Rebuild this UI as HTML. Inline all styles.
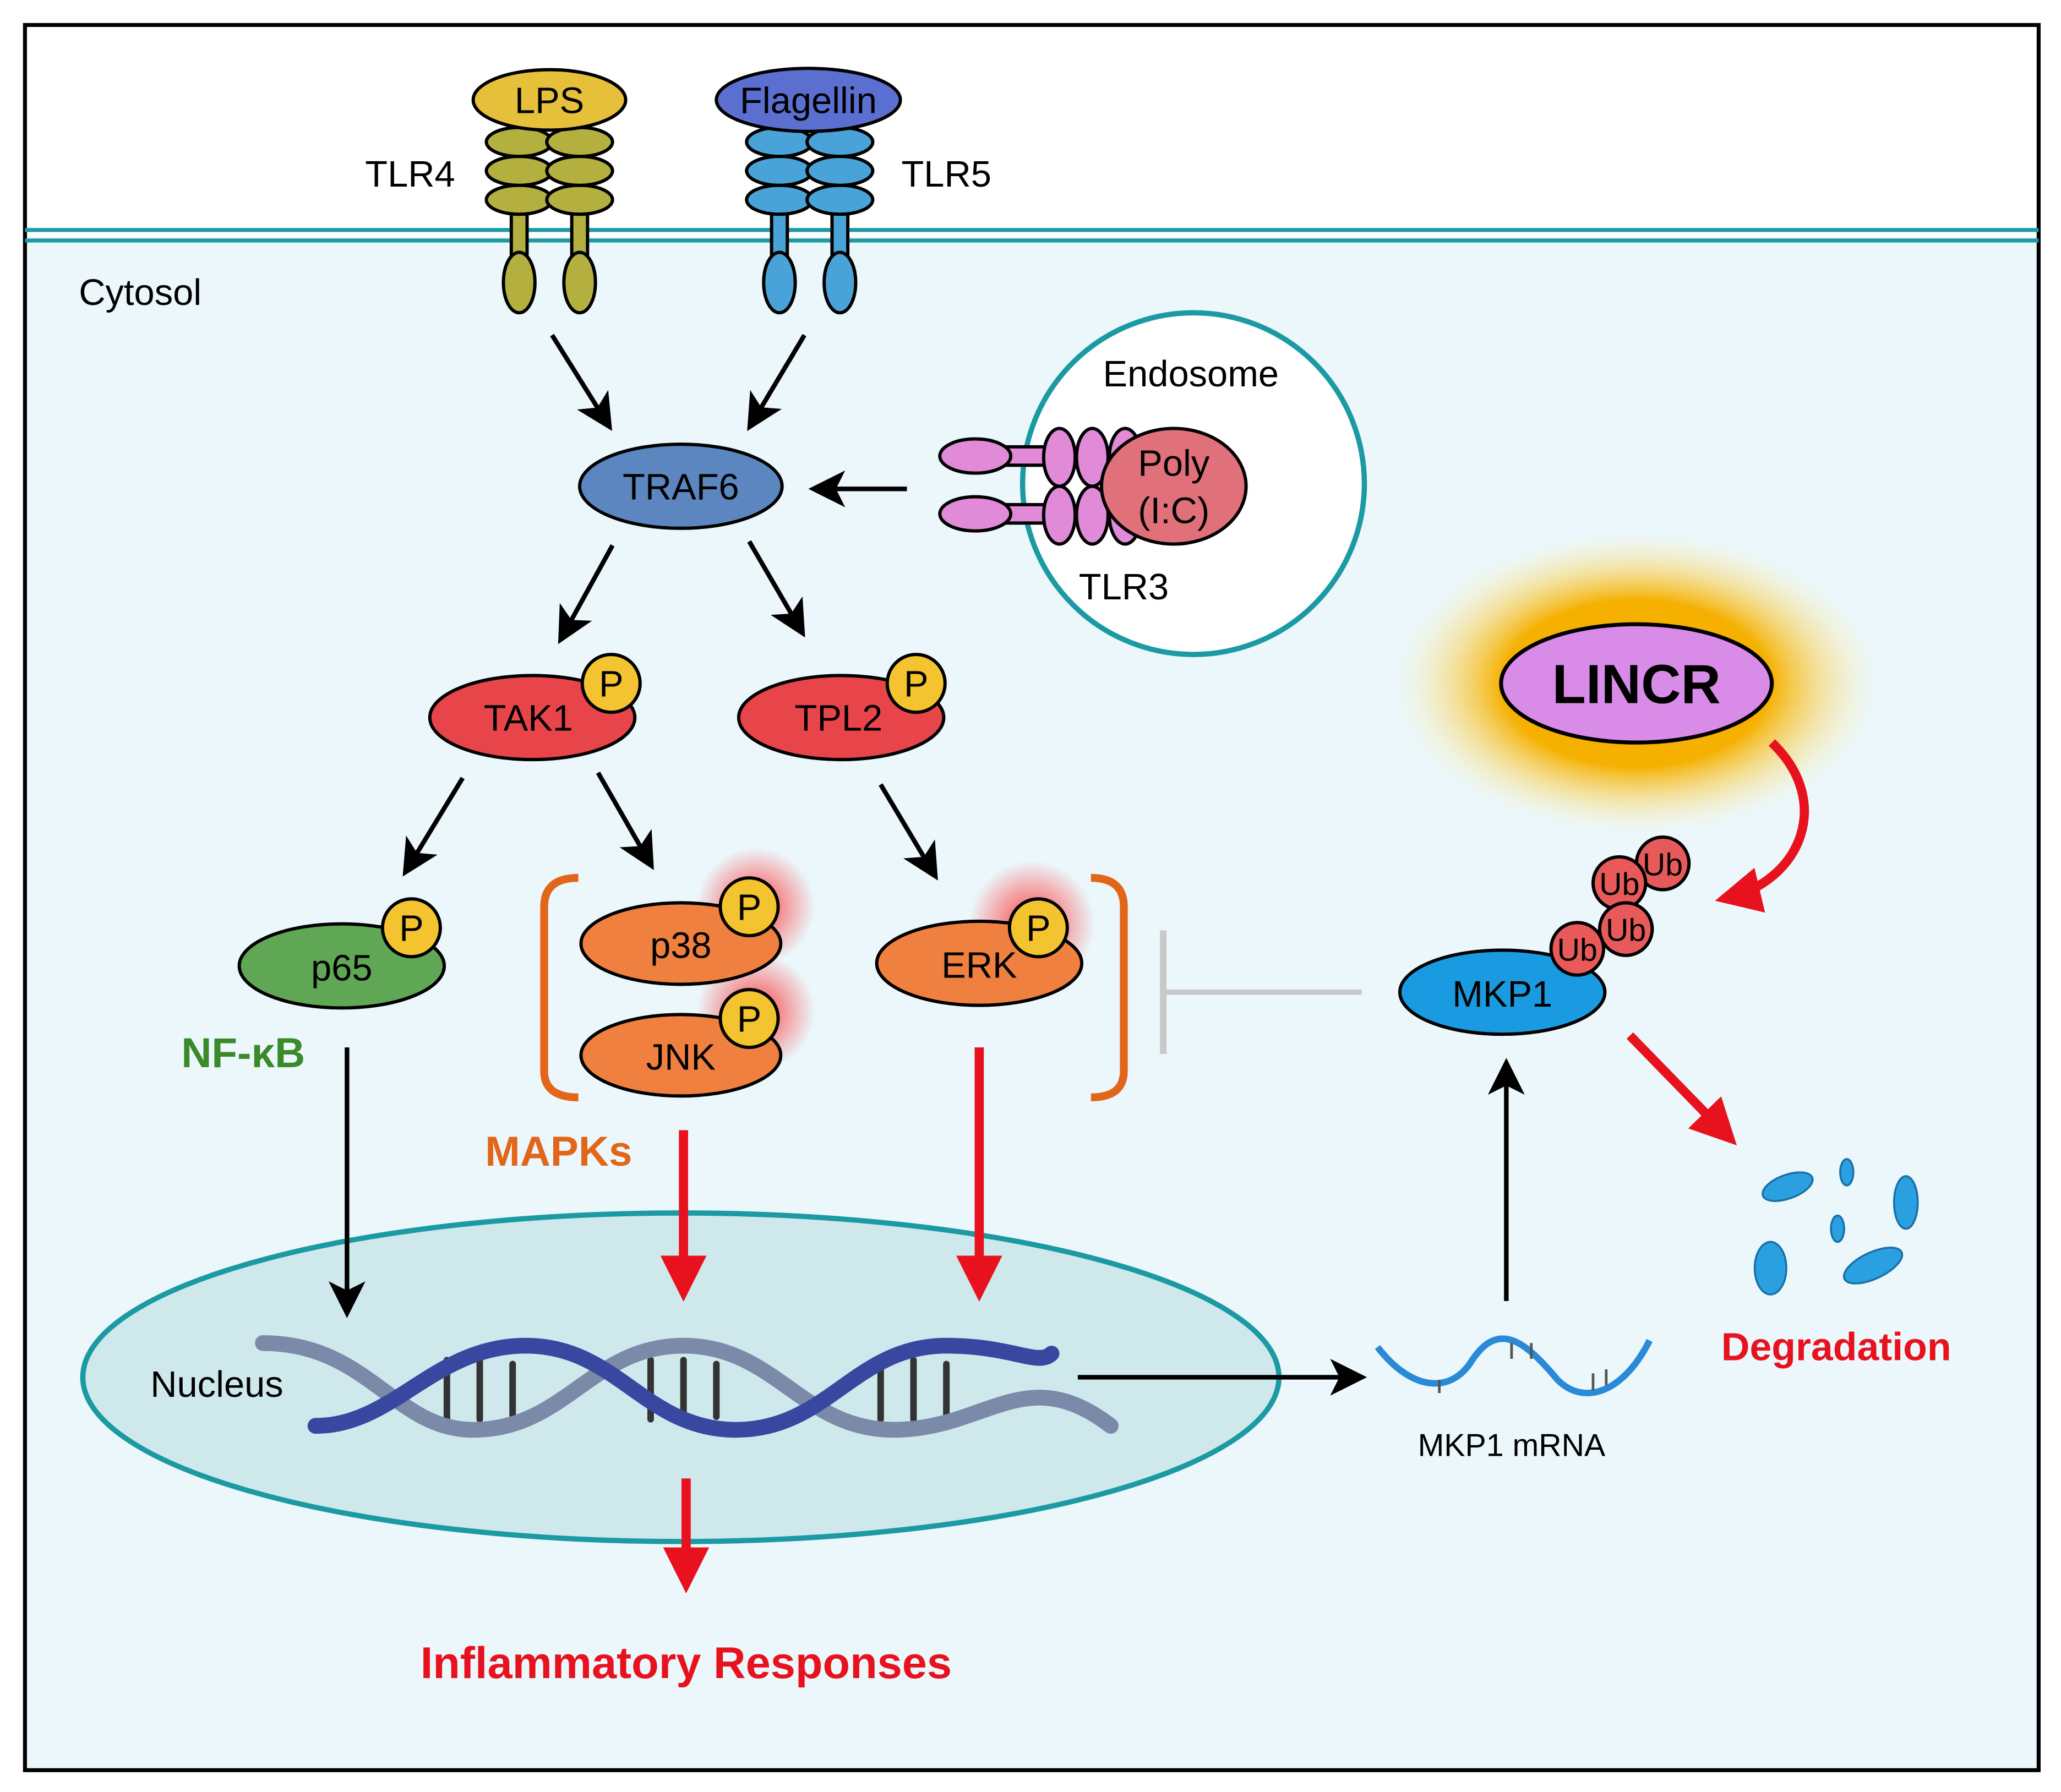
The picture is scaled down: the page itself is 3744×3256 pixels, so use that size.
<!DOCTYPE html>
<html><head><meta charset="utf-8"><style>
html,body{margin:0;padding:0;background:#fff}
svg{display:block}
text{font-family:"Liberation Sans",sans-serif}
</style></head><body>
<svg width="3744" height="3256" viewBox="0 0 1568 1363.6" xmlns="http://www.w3.org/2000/svg">
<defs>
<marker id="ab" markerWidth="8" markerHeight="8" refX="6" refY="4" orient="auto" markerUnits="strokeWidth"><path d="M0,0 L8,4 L0,8 L2,4 z" fill="#000"/></marker>
<marker id="ar" markerWidth="5" markerHeight="5" refX="3.5" refY="2.5" orient="auto" markerUnits="strokeWidth"><path d="M0,0 L5,2.5 L0,5 z" fill="#e8121e"/></marker>
<radialGradient id="glow"><stop offset="0" stop-color="#ff2020" stop-opacity=".85"/><stop offset="1" stop-color="#ff2020" stop-opacity="0"/></radialGradient>
<radialGradient id="yglow"><stop offset="0.55" stop-color="#f5b000" stop-opacity="1"/><stop offset="1" stop-color="#fff3b0" stop-opacity="0"/></radialGradient>
</defs>
<rect x="0" y="0" width="1568" height="1364" fill="#fff"/>
<rect x="19" y="180" width="1532" height="1167" fill="#ebf7fb"/>
<rect x="19" y="19" width="1532" height="1328" fill="none" stroke="#000" stroke-width="3"/>
<line x1="19" y1="175" x2="1551" y2="175" stroke="#1c9aa3" stroke-width="3"/>
<line x1="19" y1="183" x2="1551" y2="183" stroke="#1c9aa3" stroke-width="3"/>
<text x="60" y="232" font-size="28">Cytosol</text>

<!-- TLR4 -->
<g stroke="#000" stroke-width="2.5">
<rect x="389" y="160" width="12" height="40" fill="#b4b040"/><rect x="435" y="160" width="12" height="40" fill="#b4b040"/>
<ellipse cx="395" cy="215" rx="12" ry="23" fill="#b4b040"/><ellipse cx="441" cy="215" rx="12" ry="23" fill="#b4b040"/>
<ellipse cx="395" cy="152" rx="25" ry="11" fill="#b4b040"/><ellipse cx="441" cy="152" rx="25" ry="11" fill="#b4b040"/>
<ellipse cx="395" cy="130" rx="25" ry="11" fill="#b4b040"/><ellipse cx="441" cy="130" rx="25" ry="11" fill="#b4b040"/>
<ellipse cx="395" cy="108" rx="25" ry="11" fill="#b4b040"/><ellipse cx="441" cy="108" rx="25" ry="11" fill="#b4b040"/>
<ellipse cx="418" cy="76" rx="58" ry="23" fill="#e6c03a"/>
</g>
<text x="418" y="86" font-size="28" text-anchor="middle">LPS</text>
<text x="312" y="142" font-size="28" text-anchor="middle">TLR4</text>
<!-- TLR5 -->
<g stroke="#000" stroke-width="2.5">
<rect x="587" y="160" width="12" height="40" fill="#4aa3d8"/><rect x="633" y="160" width="12" height="40" fill="#4aa3d8"/>
<ellipse cx="593" cy="215" rx="12" ry="23" fill="#4aa3d8"/><ellipse cx="639" cy="215" rx="12" ry="23" fill="#4aa3d8"/>
<ellipse cx="593" cy="152" rx="25" ry="11" fill="#4aa3d8"/><ellipse cx="639" cy="152" rx="25" ry="11" fill="#4aa3d8"/>
<ellipse cx="593" cy="130" rx="25" ry="11" fill="#4aa3d8"/><ellipse cx="639" cy="130" rx="25" ry="11" fill="#4aa3d8"/>
<ellipse cx="593" cy="108" rx="25" ry="11" fill="#4aa3d8"/><ellipse cx="639" cy="108" rx="25" ry="11" fill="#4aa3d8"/>
<ellipse cx="615" cy="76" rx="70" ry="24" fill="#5a6fd0"/>
</g>
<text x="615" y="86" font-size="28" text-anchor="middle">Flagellin</text>
<text x="720" y="142" font-size="28" text-anchor="middle">TLR5</text>

<!-- nucleus -->
<ellipse cx="518" cy="1048" rx="455" ry="125" fill="#cfe8ec" stroke="#1c9aa3" stroke-width="4"/>
<text x="165" y="1063" font-size="28" text-anchor="middle">Nucleus</text>
<g fill="none" stroke-linecap="round">
<g stroke="#333" stroke-width="5">
<line x1="340" y1="1035" x2="340" y2="1080"/><line x1="365" y1="1035" x2="365" y2="1080"/><line x1="390" y1="1038" x2="390" y2="1078"/>
<line x1="495" y1="1035" x2="495" y2="1080"/><line x1="520" y1="1035" x2="520" y2="1080"/><line x1="545" y1="1038" x2="545" y2="1078"/>
<line x1="670" y1="1035" x2="670" y2="1080"/><line x1="695" y1="1035" x2="695" y2="1080"/><line x1="720" y1="1038" x2="720" y2="1078"/>
</g>
<path d="M200,1022 C280,1022 300,1088 360,1088 C430,1088 450,1024 520,1024 C590,1024 610,1088 680,1088 C750,1088 780,1035 845,1085" stroke="#7a8aa8" stroke-width="12"/>
<path d="M240,1085 C300,1085 330,1024 400,1024 C470,1024 490,1088 560,1088 C630,1088 650,1024 720,1024 C770,1024 790,1040 800,1030" stroke="#3848a0" stroke-width="12"/>
</g>

<g stroke="#000" stroke-width="3.5" fill="none" marker-end="url(#ab)">
<line x1="420" y1="255" x2="462" y2="322"/>
<line x1="612" y1="255" x2="572" y2="322"/>
<line x1="690" y1="372" x2="622" y2="372"/>
<line x1="466" y1="415" x2="428" y2="484"/>
<line x1="570" y1="412" x2="609" y2="479"/>
<line x1="352" y1="592" x2="310" y2="661"/>
<line x1="455" y1="588" x2="494" y2="656"/>
<line x1="670" y1="597" x2="710" y2="664"/>
<line x1="264" y1="797" x2="264" y2="996"/>
<line x1="820" y1="1048" x2="1033" y2="1048"/>
<line x1="1146" y1="990" x2="1146" y2="812"/>
</g>

<ellipse cx="518" cy="370" rx="77" ry="32" fill="#5b86c0" stroke="#000" stroke-width="2.5"/>
<text x="518" y="380" font-size="28" text-anchor="middle">TRAF6</text>

<!-- endosome -->
<circle cx="908" cy="368" r="130" fill="#fff" stroke="#1c9aa3" stroke-width="4"/>
<text x="906" y="294" font-size="28" text-anchor="middle">Endosome</text>
<g stroke="#000" stroke-width="2.5" fill="#e08ad8">
<rect x="760" y="340" width="36" height="14"/><rect x="760" y="384" width="36" height="14"/>
<ellipse cx="742" cy="347" rx="27" ry="13"/><ellipse cx="742" cy="391" rx="27" ry="13"/>
<ellipse cx="856" cy="348" rx="12" ry="22"/><ellipse cx="856" cy="392" rx="12" ry="22"/>
<ellipse cx="831" cy="348" rx="12" ry="22"/><ellipse cx="831" cy="392" rx="12" ry="22"/>
<ellipse cx="806" cy="348" rx="12" ry="22"/><ellipse cx="806" cy="392" rx="12" ry="22"/>
<ellipse cx="893" cy="370" rx="55" ry="44" fill="#e0707a"/>
</g>
<text x="893" y="362" font-size="28" text-anchor="middle">Poly</text>
<text x="893" y="398" font-size="28" text-anchor="middle">(I:C)</text>
<text x="855" y="456" font-size="28" text-anchor="middle">TLR3</text>

<!-- glows -->
<circle cx="575" cy="690" r="45" fill="url(#glow)"/>
<circle cx="575" cy="770" r="45" fill="url(#glow)"/>
<circle cx="785" cy="703" r="48" fill="url(#glow)"/>
<ellipse cx="1245" cy="520" rx="185" ry="115" fill="url(#yglow)"/>

<g stroke="#000" stroke-width="2.5">
<ellipse cx="405" cy="546" rx="78" ry="32" fill="#e8454a"/>
<circle cx="465" cy="520" r="22" fill="#f4c430"/>
<ellipse cx="640" cy="546" rx="78" ry="32" fill="#e8454a"/>
<circle cx="697" cy="520" r="22" fill="#f4c430"/>
<ellipse cx="260" cy="735" rx="78" ry="32" fill="#5fa655"/>
<circle cx="313" cy="706" r="22" fill="#f4c430"/>
<ellipse cx="518" cy="718" rx="76" ry="31" fill="#f08040"/>
<circle cx="570" cy="690" r="22" fill="#f4c430"/>
<ellipse cx="518" cy="803" rx="76" ry="31" fill="#f08040"/>
<circle cx="570" cy="775" r="22" fill="#f4c430"/>
<ellipse cx="745" cy="733" rx="78" ry="32" fill="#f08040"/>
<circle cx="790" cy="706" r="22" fill="#f4c430"/>
</g>
<g font-size="28" text-anchor="middle">
<text x="402" y="556">TAK1</text><text x="465" y="530">P</text>
<text x="638" y="556">TPL2</text><text x="697" y="530">P</text>
<text x="260" y="746">p65</text><text x="313" y="716">P</text>
<text x="518" y="729">p38</text><text x="570" y="700">P</text>
<text x="518" y="814">JNK</text><text x="570" y="785">P</text>
<text x="745" y="744">ERK</text><text x="790" y="716">P</text>
</g>
<path d="M440,668 Q414,668 414,690 L414,815 Q414,835 440,835" fill="none" stroke="#e2661a" stroke-width="6"/>
<path d="M830,668 Q855,668 855,690 L855,815 Q855,835 830,835" fill="none" stroke="#e2661a" stroke-width="6"/>
<text x="185" y="812" font-size="32" font-weight="bold" fill="#3a8a2a" text-anchor="middle">NF-κB</text>
<text x="425" y="887" font-size="32" font-weight="bold" fill="#e2661a" text-anchor="middle">MAPKs</text>

<!-- inhibition -->
<line x1="1036" y1="755" x2="885" y2="755" stroke="#c8c8c8" stroke-width="4"/>
<line x1="885" y1="708" x2="885" y2="802" stroke="#c8c8c8" stroke-width="5"/>

<!-- red arrows -->
<g stroke="#e8121e" stroke-width="7" fill="none" marker-end="url(#ar)">
<line x1="520" y1="860" x2="520" y2="980"/>
<line x1="745" y1="797" x2="745" y2="980"/>
<line x1="522" y1="1125" x2="522" y2="1202"/>
<line x1="1240" y1="788" x2="1314" y2="864"/>
<path d="M1348,565 C1395,610 1370,670 1315,683"/>
</g>
<text x="522" y="1277" font-size="34" font-weight="bold" fill="#e8121e" text-anchor="middle">Inflammatory Responses</text>

<!-- mRNA -->
<path d="M1048,1025 C1075,1060 1105,1060 1120,1035 C1140,1005 1160,1020 1185,1050 C1205,1070 1235,1060 1255,1020" fill="none" stroke="#2a8ad8" stroke-width="5"/>
<g stroke="#555" stroke-width="2"><line x1="1095" y1="1050" x2="1095" y2="1060"/><line x1="1150" y1="1022" x2="1150" y2="1034"/><line x1="1165" y1="1022" x2="1165" y2="1034"/><line x1="1212" y1="1045" x2="1212" y2="1058"/><line x1="1222" y1="1042" x2="1222" y2="1054"/></g>
<text x="1150" y="1108" font-size="24" text-anchor="middle">MKP1 mRNA</text>

<!-- MKP1 -->
<g stroke="#000" stroke-width="2.5">
<ellipse cx="1143" cy="755" rx="78" ry="32" fill="#1a9ae0"/>
<circle cx="1265" cy="657" r="20" fill="#e85a5a"/>
<circle cx="1232" cy="672" r="20" fill="#e85a5a"/>
<circle cx="1237" cy="707" r="20" fill="#e85a5a"/>
<circle cx="1200" cy="722" r="20" fill="#e85a5a"/>
</g>
<text x="1143" y="766" font-size="28" text-anchor="middle">MKP1</text>
<g font-size="24" text-anchor="middle"><text x="1265" y="666">Ub</text><text x="1232" y="681">Ub</text><text x="1237" y="716">Ub</text><text x="1200" y="731">Ub</text></g>

<ellipse cx="1245" cy="520" rx="103" ry="45" fill="#d98be8" stroke="#000" stroke-width="3"/>
<text x="1245" y="535" font-size="42" font-weight="bold" text-anchor="middle">LINCR</text>

<!-- fragments -->
<g fill="#2aa0e0" stroke="#1a70a8" stroke-width="1.5">
<ellipse cx="1360" cy="903" rx="20" ry="9" transform="rotate(-20 1360 903)"/>
<ellipse cx="1405" cy="892" rx="5" ry="10"/>
<ellipse cx="1450" cy="915" rx="9" ry="20"/>
<ellipse cx="1398" cy="935" rx="5" ry="10"/>
<ellipse cx="1347" cy="965" rx="12" ry="20"/>
<ellipse cx="1425" cy="963" rx="24" ry="10" transform="rotate(-25 1425 963)"/>
</g>
<text x="1397" y="1035" font-size="30" font-weight="bold" fill="#e8121e" text-anchor="middle">Degradation</text>
</svg>
</body></html>
